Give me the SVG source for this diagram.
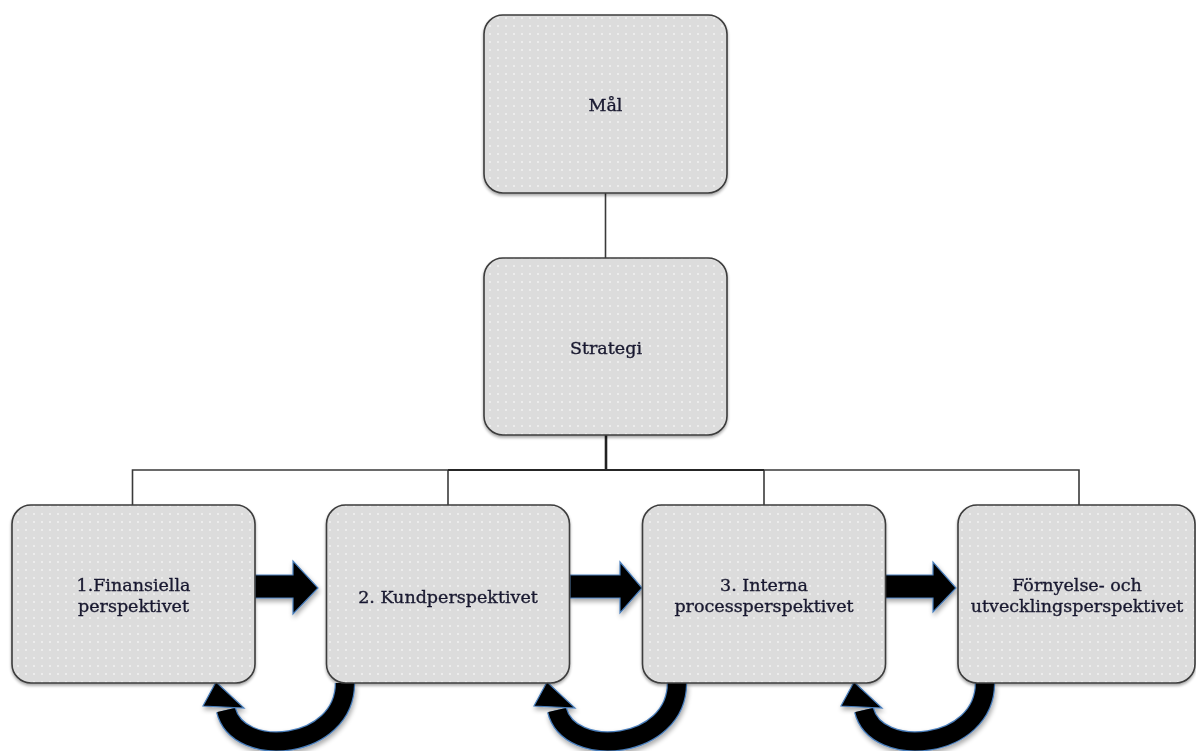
<svg xmlns="http://www.w3.org/2000/svg" width="1196" height="751" viewBox="0 0 1196 751">
<defs>
<pattern id="dots" width="8" height="8" patternUnits="userSpaceOnUse">
<rect width="8" height="8" fill="#dcdcdc"/>
<circle cx="2" cy="2" r="0.9" fill="#f4f4f4"/>
</pattern>
<filter id="bshadow" x="-10%" y="-10%" width="120%" height="120%">
<feGaussianBlur in="SourceAlpha" stdDeviation="1.5"/>
<feOffset dx="0" dy="1.5" result="b"/>
<feComponentTransfer><feFuncA type="linear" slope="0.35"/></feComponentTransfer>
<feMerge><feMergeNode/><feMergeNode in="SourceGraphic"/></feMerge>
</filter>
<filter id="ashadow" x="-20%" y="-20%" width="140%" height="150%">
<feGaussianBlur in="SourceAlpha" stdDeviation="2.5"/>
<feOffset dx="1" dy="3" result="b"/>
<feComponentTransfer><feFuncA type="linear" slope="0.35"/></feComponentTransfer>
<feMerge><feMergeNode/><feMergeNode in="SourceGraphic"/></feMerge>
</filter>
</defs>
<style>
.box{fill:url(#dots);stroke:#3c3c3c;stroke-width:1.6}
.lbl{font-family:"DejaVu Serif","Liberation Serif",serif;font-size:17.5px;fill:#1a1a30;stroke:#1a1a30;stroke-width:0.35;text-anchor:middle}
.ln{stroke:#3a3a3a;stroke-width:1.6;fill:none}
.arr{fill:#000;stroke:#4a7ebb;stroke-width:1.2;stroke-linejoin:miter}
.bandO{fill:none;stroke:#4a7ebb;stroke-width:20.5}
.bandI{fill:none;stroke:#000;stroke-width:18}
</style>
<rect width="1196" height="751" fill="#fff"/>

<g id="connectors">
<line class="ln" x1="605.5" y1="193" x2="605.5" y2="258"/>
<line class="ln" x1="606" y1="435" x2="606" y2="470" style="stroke-width:2.6;stroke:#222"/>
<polyline class="ln" points="132.5,505 132.5,470 1079,470 1079,505"/>
<line class="ln" x1="448" y1="470" x2="448" y2="505"/>
<line class="ln" x1="764" y1="470" x2="764" y2="505"/>
<line class="ln" x1="448" y1="470" x2="764" y2="470" style="stroke-width:2.1;stroke:#262626"/>
<g filter="url(#ashadow)">
<polygon class="arr" points="255,575 293,575 293,561 318,588 293,614 293,598 255,598"/>
<polygon class="arr" points="570,575 620,575 620,562 642,588 620,613 620,598 570,598"/>
<polygon class="arr" points="885,575 933,575 933,562 956,588 933,612 933,598 885,598"/>
</g>
<g filter="url(#ashadow)">
<path class="bandO" d="M345,683 C345,750 238,760 226,710"/>
<path class="bandI" d="M345,683 C345,750 238,760 226,710"/>
<polygon class="arr" points="216,682 244,708 203,706"/>
<path class="bandO" d="M677,683 C677,750 569,760 557,710"/>
<path class="bandI" d="M677,683 C677,750 569,760 557,710"/>
<polygon class="arr" points="547,682 575,708 534,706"/>
<path class="bandO" d="M985,683 C985,750 876,760 864,710"/>
<path class="bandI" d="M985,683 C985,750 876,760 864,710"/>
<polygon class="arr" points="854,682 882,708 841,706"/>
</g>
</g>

<g id="mal" filter="url(#bshadow)">
<rect class="box" x="484" y="15" width="243" height="178" rx="19"/>
<text class="lbl" x="605.5" y="111">Mål</text>
</g>
<g id="strategi" filter="url(#bshadow)">
<rect class="box" x="484" y="258" width="243" height="177" rx="19"/>
<text class="lbl" x="606" y="354">Strategi</text>
</g>
<g id="finansiella" filter="url(#bshadow)">
<rect class="box" x="12" y="505" width="243" height="178" rx="19"/>
<text class="lbl" x="133.5" y="591">1.Finansiella</text>
<text class="lbl" x="133.5" y="612">perspektivet</text>
</g>
<g id="kund" filter="url(#bshadow)">
<rect class="box" x="326.5" y="505" width="243" height="178" rx="19"/>
<text class="lbl" x="448" y="603">2. Kundperspektivet</text>
</g>
<g id="interna" filter="url(#bshadow)">
<rect class="box" x="642.5" y="505" width="243" height="178" rx="19"/>
<text class="lbl" x="764" y="591">3. Interna</text>
<text class="lbl" x="764" y="612">processperspektivet</text>
</g>
<g id="fornyelse" filter="url(#bshadow)">
<rect class="box" x="958" y="505" width="237" height="178" rx="19"/>
<text class="lbl" x="1077" y="591">Förnyelse- och</text>
<text class="lbl" x="1077" y="612">utvecklingsperspektivet</text>
</g>
</svg>
